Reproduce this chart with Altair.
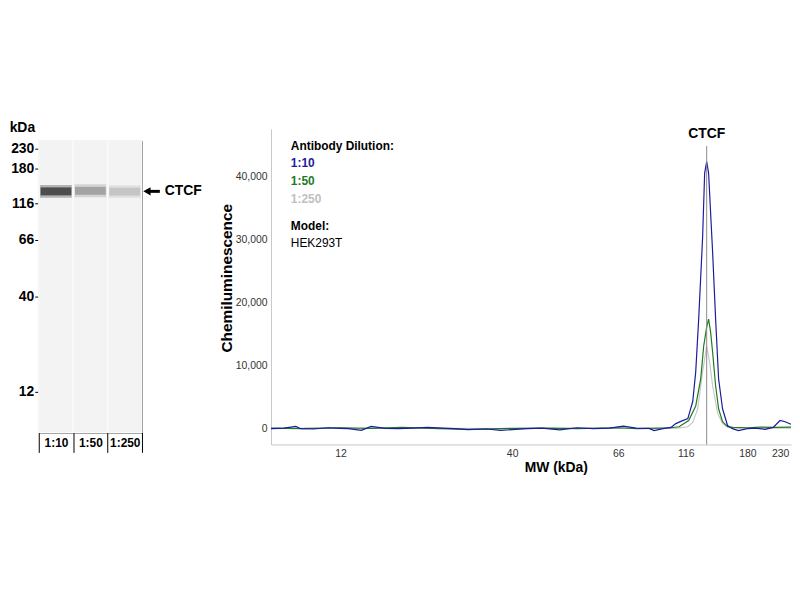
import altair as alt
import pandas as pd

FONT = "Liberation Sans"

# ---------------- Left panel: blot ----------------
lanes = ["1:10", "1:50", "1:250"]
band_mw = [138, 139, 137.5]
band_colors = ["#222222", "#8e8e8e", "#b9b9b9"]
marker_mw = [230, 180, 116, 66, 40, 12]
marker_pos = [8, 28, 63, 100, 157, 253]  # migration position of each marker in the blot

# ---------------- Right panel: electropherogram ----------------
mw_ticks = [12, 40, 66, 116, 180, 230]
x_domain = [5, 12, 40, 66, 116, 180, 230, 246.7]
x_range = [0, 70, 243, 350, 418, 480, 513, 524]

mw_10 = [5.0, 6.3, 7.5, 8.0, 9.3, 10.8, 12.0, 13.3, 15.4, 17.0, 19.3, 21.4, 23.8, 26.2,
         28.7, 30.6, 32.7, 35.9, 38.1, 40.0, 43.6, 47.3, 51.7, 55.8, 59.9, 63.8, 69.7,
         79.2, 88.8, 92.5, 99.1, 105, 108.6, 112.3, 118.1, 123.2, 126.3, 129.4, 133.5,
         135.6, 137.7, 139.7, 143.9, 147.0, 150.1, 154.2, 159.4, 164.5, 170.7, 180,
         192, 207, 219.4, 230, 237.6, 246.7]
val_10 = [0, 100, 350, 0, -50, 150, 50, 0, -270, 350, 50, 0, 100, 200,
          100, 0, -150, -50, -270, -150, 0, 80, -200, 150, 0, 100, 400,
          100, 50, -300, 0, 200, 800, 1150, 1600, 4300, 9000, 17400, 30400,
          40500, 42300, 40500, 27900, 17400, 7900, 3150, 500, 0, -300, 0,
          100, -100, 200, 1300, 1100, 700]

mw_50 = [5, 8, 12, 17, 22, 28, 33, 40, 48, 56, 66, 80, 95, 105, 111, 119, 126.3, 131.5,
         134.6, 137.7, 139.7, 141.8, 143.9, 147, 150.1, 154.2, 159.4, 165, 180, 200, 220, 246.7]
val_50 = [100, 0, 150, 50, 200, 0, -100, 50, 100, 0, 150, 0, 100, 150, 300, 1300, 3600, 7900,
          13100, 16100, 17350, 15300, 12100, 6800, 3150, 1100, 300, 200, 150, 250, 200, 250]

mw_250 = [5, 10, 15, 22, 30, 40, 55, 70, 90, 110, 118, 123.2, 128.3, 133.5, 137.7, 140.8,
          143.9, 149, 154.2, 159.4, 170, 190, 220, 246.7]
val_250 = [0, 100, 0, 150, 50, 0, 100, 50, 0, 100, 300, 1000, 3100, 9000, 13100, 10500,
           6800, 2500, 800, 300, 100, 50, 100, 100]

series_colors = {"1:10": "#1c1c9c", "1:50": "#1f7a1f", "1:250": "#c8c8c8"}
legend_lines = ["Antibody Dilution:", "1:10", "1:50", "1:250", "Model:", "HEK293T"]
legend_weights = ["bold", "bold", "bold", "bold", "bold", "normal"]
legend_colors = ["black", "#1c1c9c", "#1f7a1f", "#c0c0c0", "black", "black"]
legend_y = [17, 34, 53, 71, 98, 115]

peak_mw = 137.7

# ================= Left chart =================
blot_w, blot_h = 104, 294
lane_df = pd.DataFrame({"lane": lanes})
band_df = pd.DataFrame({"lane": lanes, "mw": band_mw, "color": band_colors})
arrow_df = pd.DataFrame({"label": ["CTCF"], "mw": [band_mw[0]]})

ysc = alt.Scale(domain=marker_mw, range=marker_pos)
xsc = alt.Scale(domain=lanes, paddingInner=0, paddingOuter=0)

y_axis_left = alt.Axis(values=marker_mw, domain=False, ticks=True, tickSize=4,
                       tickColor="black", labelPadding=1, labelFontSize=14,
                       labelFontWeight="bold", labelColor="black", grid=False,
                       title="kDa", titleAngle=0, titleX=-17, titleY=-13,
                       titleAlign="center", titleBaseline="middle",
                       titleFontSize=14, titleFontWeight="bold", titleColor="black")
x_axis_left = alt.Axis(title=None, orient="bottom", tickBand="extent", tickSize=20,
                       tickColor="black", tickWidth=1, domain=False, labelAngle=0,
                       labelPadding=-15, labelFontSize=12, labelFontWeight="bold",
                       labelColor="black", grid=False)

lane_bg = alt.Chart(lane_df).mark_rect(fill="#f3f3f3", stroke="#fcfcfc", strokeWidth=1.2).encode(
    x=alt.X("lane:N", sort=lanes, scale=xsc, axis=x_axis_left),
    y=alt.value(0), y2=alt.value(blot_h),
)
band_glow = alt.Chart(band_df).mark_tick(thickness=13, size=32, opacity=0.3).encode(
    x=alt.X("lane:N", sort=lanes, scale=xsc, axis=x_axis_left),
    y=alt.Y("mw:Q", scale=ysc, axis=y_axis_left),
    color=alt.Color("color:N", scale=None),
)
band_core = alt.Chart(band_df).mark_tick(thickness=8, size=31).encode(
    x=alt.X("lane:N", sort=lanes, scale=xsc, axis=x_axis_left),
    y=alt.Y("mw:Q", scale=ysc, axis=y_axis_left),
    color=alt.Color("color:N", scale=None),
)
arrow_shaft = alt.Chart(arrow_df).mark_rule(color="black", strokeWidth=3, clip=False).encode(
    x=alt.value(109), x2=alt.value(122),
    y=alt.Y("mw:Q", scale=ysc, axis=y_axis_left),
)
arrow_head = alt.Chart(arrow_df).mark_point(shape="triangle-left", filled=True, color="black",
                                            size=70, opacity=1, clip=False).encode(
    x=alt.value(109),
    y=alt.Y("mw:Q", scale=ysc, axis=y_axis_left),
)
arrow_text = alt.Chart(arrow_df).mark_text(align="left", baseline="middle", fontSize=14,
                                           fontWeight="bold", color="black", clip=False).encode(
    x=alt.value(127),
    y=alt.Y("mw:Q", scale=ysc, axis=y_axis_left),
    text="label:N",
)

left = alt.layer(lane_bg, band_glow, band_core, arrow_shaft, arrow_head, arrow_text).properties(
    width=blot_w, height=blot_h,
    view=alt.ViewBackground(stroke="#222222", strokeWidth=1, fill="#fafafa"),
)

# ================= Right chart =================
df10 = pd.DataFrame({"mw": mw_10, "value": val_10})
df50 = pd.DataFrame({"mw": mw_50, "value": val_50})
df250 = pd.DataFrame({"mw": mw_250, "value": val_250})

xs = alt.Scale(domain=x_domain, range=x_range, zero=False, nice=False)
ys = alt.Scale(domain=[-2500, 47500], zero=False, nice=False)

x_axis = alt.Axis(values=mw_ticks, ticks=False, domainColor="#c8c8c8", labelFontSize=10.5,
                  labelColor="#333333", labelPadding=4, grid=False, labelFlush=False,
                  labelExpr="format(datum.value, 'd')",
                  title="MW (kDa)", titleFontSize=14, titleFontWeight="bold",
                  titleColor="black", titleX=287, titleY=23, titleBaseline="middle",
                  titleAlign="center")
y_axis = alt.Axis(values=[0, 10000, 20000, 30000, 40000], ticks=False,
                  labelExpr="format(datum.value, ',')",
                  domainColor="#c8c8c8", labelFontSize=10.5, labelColor="#333333",
                  labelPadding=4, grid=False, title="Chemiluminescence",
                  titleFontSize=15.5, titleFontWeight="bold", titleColor="black",
                  titleX=-45, titleY=150, titleAlign="center", titleBaseline="middle")


def curve(df, color):
    return alt.Chart(df).mark_line(color=color, strokeWidth=1.2, clip=True).encode(
        x=alt.X("mw:Q", scale=xs, axis=x_axis),
        y=alt.Y("value:Q", scale=ys, axis=y_axis),
    )


rule_df = pd.DataFrame({"mw": [peak_mw], "lo": [-2500], "hi": [44800]})
marker_rule = alt.Chart(rule_df).mark_rule(color="#8a8a8a", strokeWidth=1).encode(
    x=alt.X("mw:Q", scale=xs, axis=x_axis),
    y=alt.Y("lo:Q", scale=ys, axis=y_axis),
    y2="hi:Q",
)
label_df = pd.DataFrame({"mw": [peak_mw], "value": [46700], "t": ["CTCF"]})
marker_text = alt.Chart(label_df).mark_text(fontSize=14, fontWeight="bold", color="black",
                                            baseline="middle").encode(
    x=alt.X("mw:Q", scale=xs, axis=x_axis),
    y=alt.Y("value:Q", scale=ys, axis=y_axis),
    text="t:N",
)

legend_layers = []
for txt, wt, col, yy in zip(legend_lines, legend_weights, legend_colors, legend_y):
    legend_layers.append(
        alt.Chart(pd.DataFrame({"t": [txt]})).mark_text(
            align="left", baseline="middle", fontSize=12, fontWeight=wt, color=col
        ).encode(x=alt.value(20), y=alt.value(yy), text="t:N")
    )

right = alt.layer(
    curve(df250, series_colors["1:250"]),
    curve(df50, series_colors["1:50"]),
    curve(df10, series_colors["1:10"]),
    marker_rule, marker_text, *legend_layers,
).properties(width=524, height=318, view=alt.ViewBackground(stroke="transparent"))

chart = alt.hconcat(left, right, spacing=130, bounds="flush", center=True).properties(
    padding={"left": 0, "top": 111, "right": 0, "bottom": 0}
).configure(font=FONT).configure_axis(labelFont=FONT, titleFont=FONT).configure_text(font=FONT)

chart.save("out.html", embed_options={"renderer": "svg", "actions": False})
